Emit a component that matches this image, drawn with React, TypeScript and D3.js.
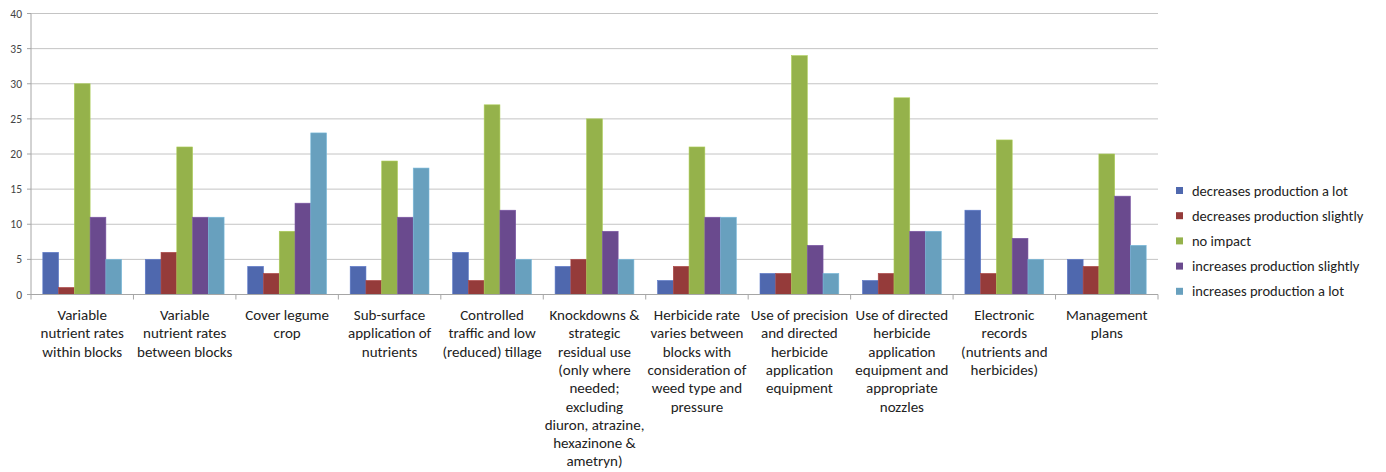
import React from "react";
import * as d3 from "d3";

const categories: string[] = [
  "Variable\nnutrient rates\nwithin blocks",
  "Variable\nnutrient rates\nbetween blocks",
  "Cover legume\ncrop",
  "Sub-surface\napplication of\nnutrients",
  "Controlled\ntraffic and low\n(reduced) tillage",
  "Knockdowns &\nstrategic\nresidual use\n(only where\nneeded;\nexcluding\ndiuron, atrazine,\nhexazinone &\nametryn)",
  "Herbicide rate\nvaries between\nblocks with\nconsideration of\nweed type and\npressure",
  "Use of precision\nand directed\nherbicide\napplication\nequipment",
  "Use of directed\nherbicide\napplication\nequipment and\nappropriate\nnozzles",
  "Electronic\nrecords\n(nutrients and\nherbicides)",
  "Management\nplans",
];

const seriesNames: string[] = [
  "decreases production a lot",
  "decreases production slightly",
  "no impact",
  "increases production slightly",
  "increases production a lot",
];

const decreasesLot: number[] = [6, 5, 4, 4, 6, 4, 2, 3, 2, 12, 5];
const decreasesSlightly: number[] = [1, 6, 3, 2, 2, 5, 4, 3, 3, 3, 4];
const noImpact: number[] = [30, 21, 9, 19, 27, 25, 21, 34, 28, 22, 20];
const increasesSlightly: number[] = [11, 11, 13, 11, 12, 9, 11, 7, 9, 8, 14];
const increasesLot: number[] = [5, 11, 23, 18, 5, 5, 11, 3, 9, 5, 7];

const yTicks: number[] = [0, 5, 10, 15, 20, 25, 30, 35, 40];

const seriesValues = [decreasesLot, decreasesSlightly, noImpact, increasesSlightly, increasesLot];
const colors = ["#4F68AE", "#953B3A", "#95B24B", "#6A4A8E", "#68A0BE"];

const W = 1386;
const H = 472;
const left = 31;
const right = 1158;
const top = 13.5;
const bottom = 294.5;
const FONT = "Carlito, Lato, 'Open Sans', sans-serif";

export default function App() {
  const x0 = d3.scaleBand<number>().domain(d3.range(categories.length)).range([left, right]).paddingInner(0).paddingOuter(0);
  const bw = x0.bandwidth();
  // Excel-like gap width of 150% of one bar on the group
  const barW = bw / (seriesNames.length + 1.5);
  const x1 = d3
    .scaleBand<number>()
    .domain(d3.range(seriesNames.length))
    .range([barW * 0.75, bw - barW * 0.75])
    .padding(0);
  const y = d3.scaleLinear().domain([0, 40]).range([bottom, top]);

  return (
    <svg
      width={W}
      height={H}
      style={{ position: "absolute", left: 0, top: 0, background: "#fff" }}
      fontFamily={FONT}
    >
      <rect x={0} y={0} width={W} height={H} fill="#fff" />
      {yTicks.map((t) => (
        <g key={t}>
          {t > 0 && (
            <line x1={left} x2={right} y1={y(t)} y2={y(t)} stroke="#c4c4c4" strokeWidth={1} />
          )}
          <line x1={left - 4} x2={left} y1={y(t)} y2={y(t)} stroke="#a6a6a6" />
          <text x={left - 9} y={y(t)} dy="0.35em" textAnchor="end" fontSize={11.5} fill="#444">
            {t}
          </text>
        </g>
      ))}
      {seriesValues.map((vals, s) => (
        <g key={s}>
          {vals.map((v, i) => (
            <rect
              key={i}
              x={(x0(i) as number) + (x1(s) as number)}
              y={y(v)}
              width={x1.bandwidth()}
              height={bottom - y(v)}
              fill={colors[s]}
              stroke={d3.color(colors[s])!.brighter(0.4).toString()}
              strokeWidth={0.6}
            />
          ))}
        </g>
      ))}
      <line x1={left} x2={left} y1={top} y2={bottom} stroke="#a6a6a6" />
      <line x1={left} x2={right} y1={bottom} y2={bottom} stroke="#a6a6a6" />
      {d3.range(categories.length + 1).map((i) => {
        const xx = left + i * bw;
        return <line key={i} x1={xx} x2={xx} y1={bottom} y2={bottom + 5} stroke="#a6a6a6" />;
      })}
      {categories.map((c, i) => (
        <text
          key={i}
          x={(x0(i) as number) + bw / 2}
          y={320}
          textAnchor="middle"
          fontSize={15}
          fill="#222"
        >
          {c.split("\n").map((ln, k) => (
            <tspan key={k} x={(x0(i) as number) + bw / 2} dy={k === 0 ? 0 : 18.3}>
              {ln}
            </tspan>
          ))}
        </text>
      ))}
      {seriesNames.map((n, s) => {
        const cy = 190.5 + s * 25.2;
        return (
          <g key={n}>
            <rect x={1176} y={cy - 3.5} width={7} height={7} fill={colors[s]} />
            <text x={1192} y={cy} dy="0.35em" fontSize={14.5} fill="#222">
              {n}
            </text>
          </g>
        );
      })}
    </svg>
  );
}
